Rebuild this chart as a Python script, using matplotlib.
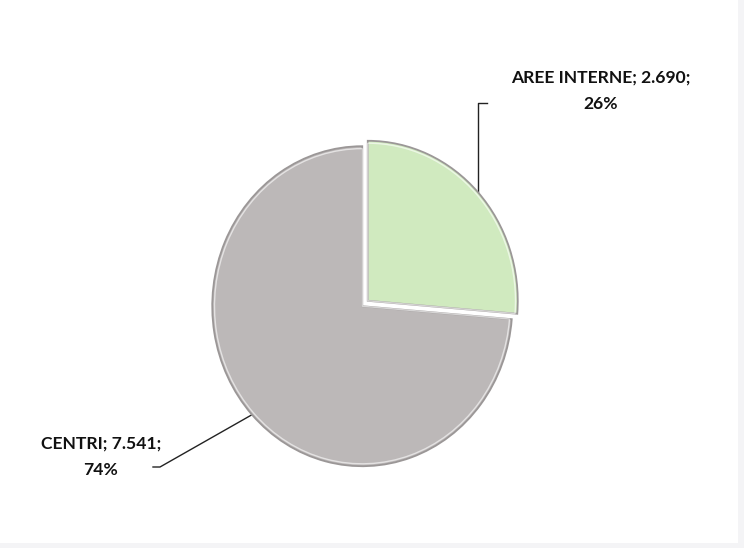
import matplotlib.pyplot as plt
import numpy as np

# dati del grafico
categorie = ['AREE INTERNE', 'CENTRI']
valori = [2690, 7541]
etichette = ['AREE INTERNE; 2.690;\n26%', 'CENTRI; 7.541;\n74%']
colori = ['#d0eabf', '#bcb8b8']

W, H = 744, 548
fig = plt.figure(figsize=(W / 100, H / 100), dpi=100)
fig.patch.set_facecolor('#f4f4f6')

# asse di sfondo in coordinate pixel (y verso il basso)
bg = fig.add_axes([0, 0, 1, 1])
bg.set_xlim(0, W)
bg.set_ylim(H, 0)
bg.axis('off')
bg.add_patch(plt.Rectangle((0, 0), 738, 543, facecolor='white', edgecolor='none', zorder=0))

# asse della torta (leggermente schiacciata come l'originale)
cx, cy, rx, ry = 365, 303.5, 150, 160
ax = fig.add_axes([(cx - rx) / W, 1 - (cy + ry) / H, 2 * rx / W, 2 * ry / H])
wedges, _ = ax.pie(valori, colors=colori, startangle=90, counterclock=False,
                   explode=[0.025, 0.025], radius=1.0,
                   wedgeprops=dict(edgecolor='#9b9797', linewidth=1.3))
# leggero effetto smussato sul bordo
ax.pie(valori, startangle=90, counterclock=False,
       explode=[0.025, 0.025], radius=0.985,
       wedgeprops=dict(facecolor='none', edgecolor='white', linewidth=1.0, alpha=0.6))
ax.set_aspect('auto')
ax.set_xlim(-1, 1)
ax.set_ylim(-1, 1)
ax.axis('off')

font = dict(family=['Lato', 'DejaVu Sans'], fontsize=12.6, fontweight='bold', color='#111111')

# etichette con linee guida
bg.plot([478, 478, 487], [193, 103, 103], color='#222222', lw=1)
bg.text(601, 90.5, etichette[0], ha='center', va='center', linespacing=1.8, **font)

bg.plot([255, 160, 153], [413, 467, 467], color='#222222', lw=1)
bg.text(101, 457, etichette[1], ha='center', va='center', linespacing=1.8, **font)

fig.savefig('out.png', dpi=100, facecolor=fig.get_facecolor())
